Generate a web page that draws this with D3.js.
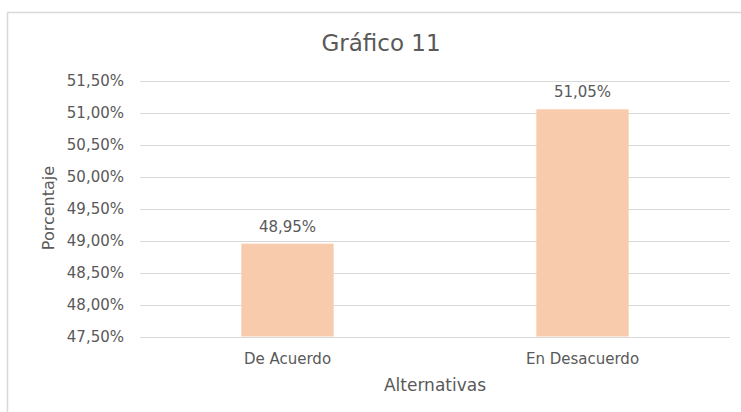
<!DOCTYPE html>
<html>
<head>
<meta charset="utf-8">
<script src="https://cdn.jsdelivr.net/npm/d3@7"></script>
<style>
  body { margin: 0; background: #fff; }
  text { font-family: "DejaVu Sans", sans-serif; fill: #595959; }
</style>
</head>
<body>
<svg id="chart"></svg>
<script>
var categories = ["De Acuerdo", "En Desacuerdo"];
var values = [48.95, 51.05];
var yTicks = [47.5, 48, 48.5, 49, 49.5, 50, 50.5, 51, 51.5];

var W = 741, H = 412;
var margin = { top: 80.5, right: 11, bottom: 75.5, left: 140 };

var svg = d3.select("#chart").attr("width", W).attr("height", H);

// chart frame
svg.append("rect")
  .attr("x", 7.5).attr("y", 12.5)
  .attr("width", 745).attr("height", 420)
  .attr("fill", "#fff").attr("stroke", "#d9d9d9").attr("stroke-width", 1.5);

var x = d3.scaleBand()
  .domain(categories)
  .range([margin.left, W - margin.right])
  .paddingInner(0.687).paddingOuter(0.3435);

var y = d3.scaleLinear()
  .domain([47.5, 51.5])
  .range([H - margin.bottom, margin.top]);

function fmt(v) { return v.toFixed(2).replace(".", ",") + "%"; }

// gridlines
svg.append("g")
  .selectAll("line")
  .data(yTicks)
  .join("line")
  .attr("x1", margin.left).attr("x2", W - margin.right)
  .attr("y1", function (d) { return Math.round(y(d)) + 0.5; })
  .attr("y2", function (d) { return Math.round(y(d)) + 0.5; })
  .attr("stroke", "#d9d9d9").attr("stroke-width", 1);

// y axis labels
var yAxis = svg.append("g")
  .attr("transform", "translate(" + (margin.left - 16) + ",0)")
  .call(d3.axisLeft(y).tickValues(yTicks).tickFormat(fmt).tickSize(0).tickPadding(0));
yAxis.select(".domain").remove();
yAxis.selectAll("text").style("font-size", "15px").attr("fill", "#595959")
  .style("font-family", "DejaVu Sans");

// bars
svg.append("g")
  .selectAll("rect")
  .data(values)
  .join("rect")
  .attr("x", function (d, i) { return x(categories[i]); })
  .attr("width", x.bandwidth())
  .attr("y", function (d) { return y(d); })
  .attr("height", function (d) { return y(47.5) - y(d); })
  .attr("fill", "#f8cbad");

// value labels
svg.append("g")
  .selectAll("text")
  .data(values)
  .join("text")
  .attr("x", function (d, i) { return x(categories[i]) + x.bandwidth() / 2; })
  .attr("y", function (d) { return y(d) - 12; })
  .attr("text-anchor", "middle")
  .style("font-size", "15px")
  .text(fmt);

// x axis labels
var xAxis = svg.append("g")
  .attr("transform", "translate(0," + (H - margin.bottom) + ")")
  .call(d3.axisBottom(x).tickSize(0).tickPadding(17));
xAxis.select(".domain").remove();
xAxis.selectAll("text").style("font-size", "15px").attr("fill", "#595959")
  .style("font-family", "DejaVu Sans");

// title
svg.append("text")
  .attr("x", 381).attr("y", 51)
  .attr("text-anchor", "middle")
  .style("font-size", "23px")
  .text("Gráfico 11");

// axis titles
svg.append("text")
  .attr("x", (margin.left + W - margin.right) / 2).attr("y", 391)
  .attr("text-anchor", "middle")
  .style("font-size", "17px")
  .text("Alternativas");

svg.append("text")
  .attr("transform", "translate(54,208) rotate(-90)")
  .attr("text-anchor", "middle")
  .style("font-size", "16px")
  .text("Porcentaje");
</script>
</body>
</html>
